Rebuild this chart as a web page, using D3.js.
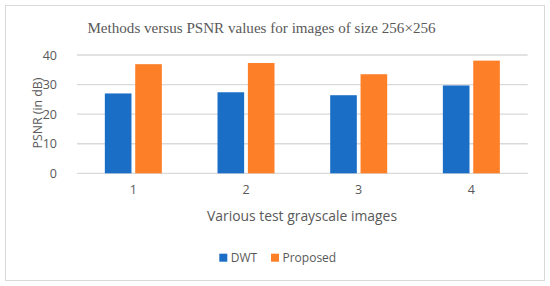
<!DOCTYPE html>
<html><head><meta charset="utf-8">
<script src="https://cdn.jsdelivr.net/npm/d3@7"></script>
<style>body{margin:0;background:#fff}</style>
</head><body>
<svg id="c" width="550" height="286"></svg>
<script>
const categories = ["1","2","3","4"];
const seriesNames = ["DWT","Proposed"];
const dwt = [27.0, 27.4, 26.4, 29.7];
const proposed = [36.9, 37.3, 33.5, 38.1];
const yTicks = [0,10,20,30,40];
const colors = ["#1a6ec6","#fd7f28"];

const svg = d3.select("#c");
const sans = "'Open Sans', sans-serif";
svg.append("rect").attr("x",5.5).attr("y",5.5).attr("width",539).attr("height",275)
  .attr("fill","#fff").attr("stroke","#d9d9d9");

const x0 = d3.scaleBand().domain(categories).range([77,527.7]);
const x1 = d3.scaleBand().domain(seriesNames).range([0,57]).paddingInner(0.123);
const y = d3.scaleLinear().domain([0,40]).range([173.3,55]);

const g = svg.append("g");
g.selectAll("line.grid").data(yTicks).join("line")
  .attr("x1",77).attr("x2",527.7).attr("y1",d=>y(d)).attr("y2",d=>y(d))
  .attr("stroke","#d9d9d9").attr("stroke-width",1.3);

const yAxis = d3.axisLeft(y).tickValues(yTicks).tickSize(0).tickPadding(0);
const ya = svg.append("g").attr("transform","translate(57,0)").call(yAxis);
ya.select(".domain").remove();
ya.selectAll("text").attr("fill","#595959").style("font-family",sans).style("font-size","12.5px");

const data = categories.map((c,i)=>({c, vals:[dwt[i],proposed[i]]}));
const grp = svg.selectAll("g.cat").data(data).join("g")
  .attr("transform",d=>`translate(${x0(d.c)+x0.bandwidth()/2-28.5},0)`);
grp.selectAll("rect").data(d=>d.vals.map((v,j)=>({s:seriesNames[j],v,j}))).join("rect")
  .attr("x",d=>x1(d.s)).attr("width",x1.bandwidth())
  .attr("y",d=>y(d.v)).attr("height",d=>y(0)-y(d.v))
  .attr("fill",d=>colors[d.j]);

const xAxis = d3.axisBottom(x0).tickSize(0).tickPadding(0);
const xa = svg.append("g").attr("transform","translate(0,185)").call(xAxis);
xa.select(".domain").remove();
xa.selectAll("text").attr("fill","#595959").style("font-family",sans).style("font-size","12.5px");

svg.append("text").attr("x",261.5).attr("y",33).attr("text-anchor","middle")
  .style("font-family","'Liberation Serif', serif").style("font-size","15.1px").attr("fill","#595959")
  .text("Methods versus PSNR values for images of size 256×256");

svg.append("text").attr("x",302).attr("y",221).attr("text-anchor","middle")
  .style("font-family",sans).style("font-size","13.9px").attr("fill","#595959")
  .text("Various test grayscale images");

svg.append("text").attr("transform","translate(42,113) rotate(-90)").attr("text-anchor","middle")
  .style("font-family",sans).style("font-size","12.3px").attr("fill","#595959")
  .text("PSNR (in dB)");

const legX = [219.3, 271];
const leg = svg.selectAll("g.leg").data(seriesNames).join("g")
  .attr("transform",(d,i)=>`translate(${legX[i]},253.7)`);
leg.append("rect").attr("width",8).attr("height",8).attr("fill",(d,i)=>colors[i]);
leg.append("text").attr("x",11.5).attr("y",8.5).text(d=>d)
  .style("font-family",sans).style("font-size","12px").attr("fill","#595959");
</script>
</body></html>
